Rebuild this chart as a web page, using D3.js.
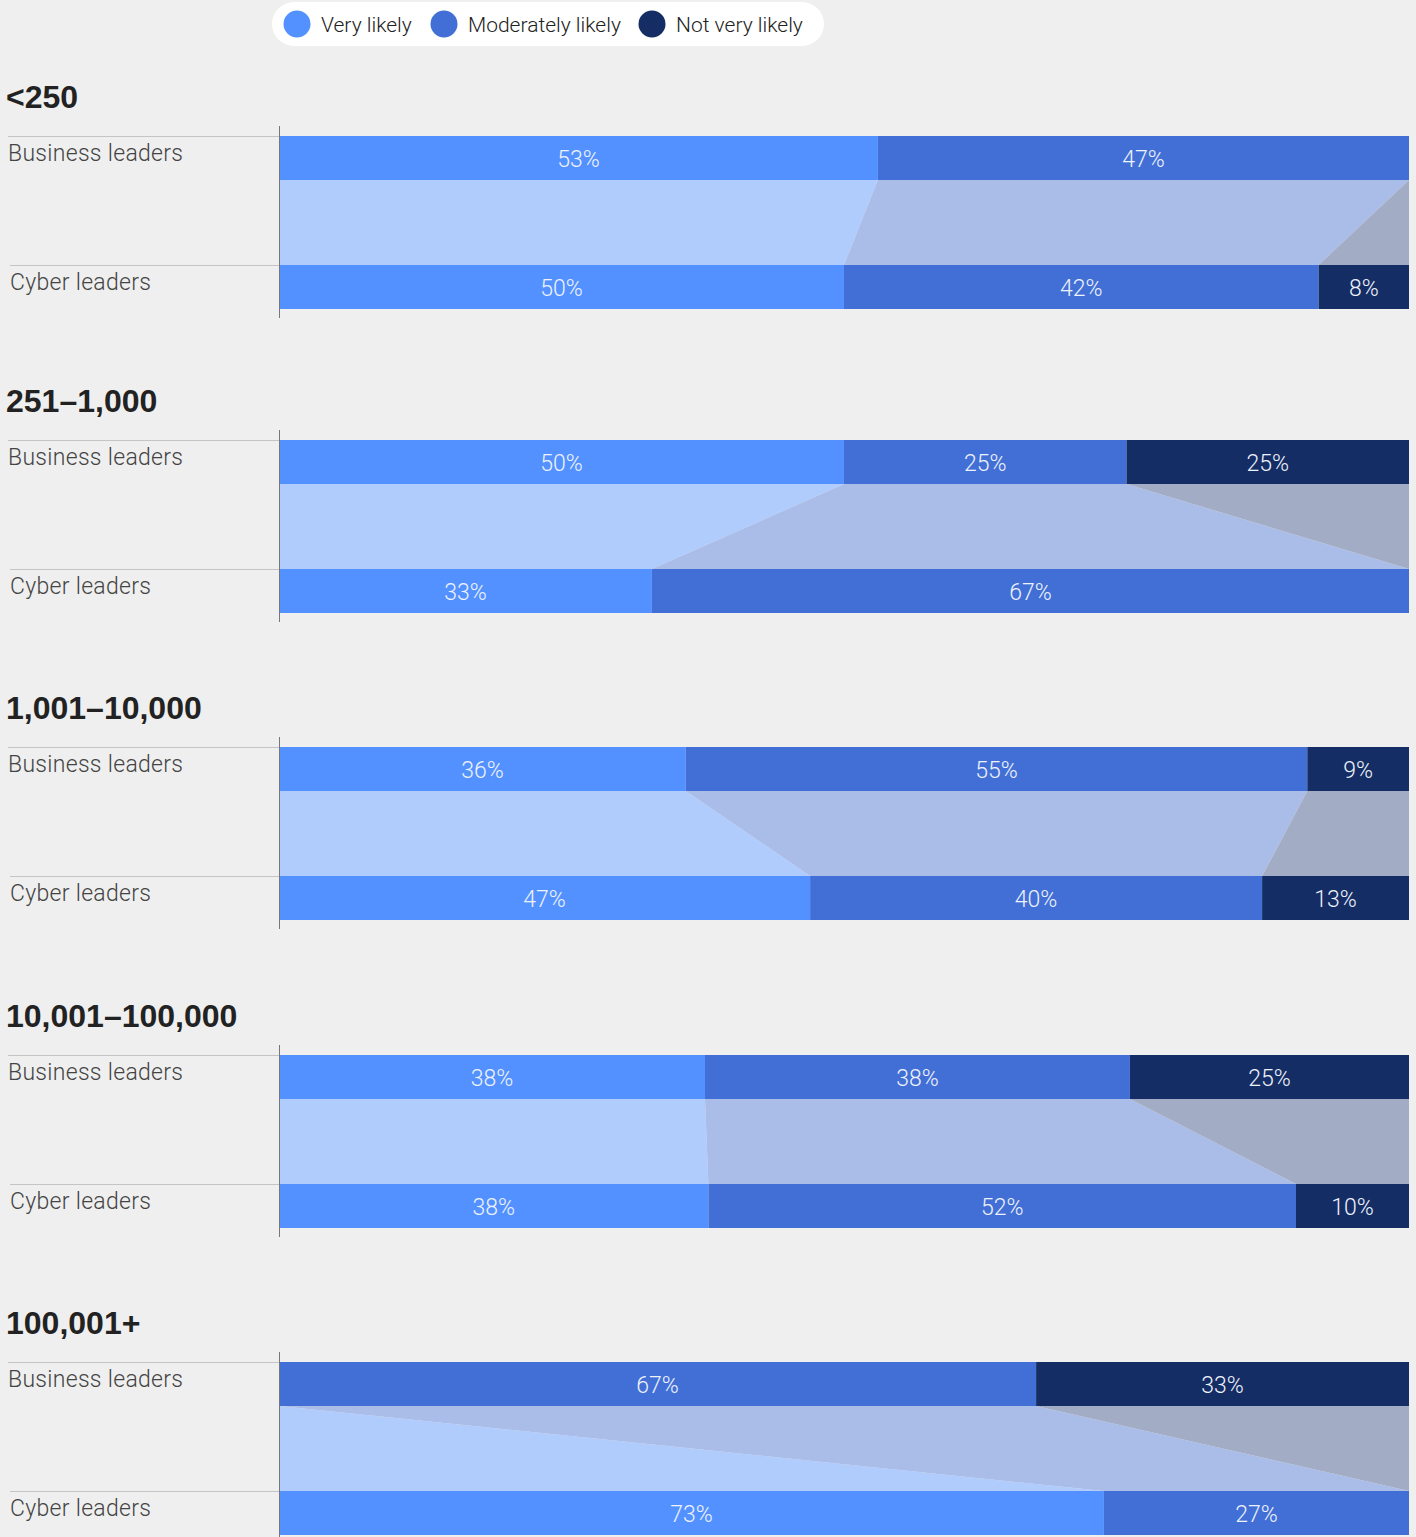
<!DOCTYPE html>
<html><head><meta charset="utf-8">
<script src="https://cdn.jsdelivr.net/npm/d3@7"></script>
<style>
html,body{margin:0;padding:0;background:#efefef;}
svg{display:block;}
</style></head>
<body>
<script>
const groups = ["<250", "251–1,000", "1,001–10,000", "10,001–100,000", "100,001+"];
const respondents = ["Business leaders", "Cyber leaders"];
const series = ["Very likely", "Moderately likely", "Not very likely"];
// [business, cyber] shares per group
const veryLikely       = [[53, 50], [50, 33], [36, 47], [37.7, 38], [0, 73]];
const moderatelyLikely = [[47, 42], [25, 67], [55, 40], [37.6, 52], [67, 27]];
const notVeryLikely    = [[0, 8],   [25, 0],  [9, 13],  [24.7, 10], [33, 0]];

const W = 1416, H = 1537;
const colors = ["#5291ff", "#416fd6", "#152d65"];
const bandColors = ["#b0ccfd", "#aabde9", "#a2adc5"];
const lightFont = "Roboto, 'Liberation Sans', sans-serif";
const titleFont = "'Liberation Sans', Arial, sans-serif";

const svg = d3.select("body").append("svg").attr("width", W).attr("height", H);

const x = d3.scaleLinear().domain([0, 100]).range([279, 1409]);
const gy = d3.scaleLinear().domain([0, 1, 4]).range([136, 440, 1362]);
const barH = 44;
const rowY = d3.scaleOrdinal().domain(respondents).range([0, 129]);

const allSeries = [veryLikely, moderatelyLikely, notVeryLikely];

// legend
const leg = svg.append("g");
leg.append("rect").attr("x", 272).attr("y", 2).attr("width", 552).attr("height", 44)
  .attr("rx", 22).attr("fill", "#ffffff");
const legX = [297, 444, 652];
series.forEach((s, i) => {
  leg.append("circle").attr("cx", legX[i]).attr("cy", 24).attr("r", 13.5).attr("fill", colors[i]);
  leg.append("text").attr("x", legX[i] + 24).attr("y", 32).text(s)
    .attr("font-family", lightFont).attr("font-weight", 300).attr("font-size", 21).attr("fill", "#222");
});

groups.forEach((gname, gi) => {
  const top = Math.round(gy(gi));
  const g = svg.append("g");
  g.append("text").attr("x", 6).attr("y", top - 28).text(gname)
    .attr("font-family", titleFont).attr("font-weight", "bold").attr("font-size", 32).attr("fill", "#222");

  const stacks = respondents.map((r, ri) => {
    let acc = 0;
    return allSeries.map((ser, si) => {
      const v = ser[gi][ri];
      const seg = {x0: acc, x1: acc + v, v, si};
      acc += v;
      return seg;
    });
  });
  stacks.forEach(st => { const tot = st[st.length - 1].x1; st.forEach(s => { s.x0 = s.x0 * 100 / tot; s.x1 = s.x1 * 100 / tot; }); });

  const yb = top + rowY(respondents[0]) + barH;
  const yc = top + rowY(respondents[1]);
  series.forEach((s, si) => {
    const b = stacks[0][si], c = stacks[1][si];
    g.append("path")
      .attr("d", `M${x(b.x0)},${yb}L${x(b.x1)},${yb}L${x(c.x1)},${yc}L${x(c.x0)},${yc}Z`)
      .attr("fill", bandColors[si]);
  });

  respondents.forEach((r, ri) => {
    const y0 = top + rowY(r);
    g.append("line").attr("x1", ri === 0 ? 8 : 10).attr("x2", 279).attr("y1", y0 + 0.5).attr("y2", y0 + 0.5)
      .attr("stroke", "#c4c4c4").attr("stroke-width", 1);
    g.append("text").attr("x", ri === 0 ? 8 : 10).attr("y", y0 + 25).text(r)
      .attr("font-family", lightFont).attr("font-weight", 300).attr("font-size", 23)
      .attr("letter-spacing", 0.3).attr("fill", "#444");
    stacks[ri].forEach(seg => {
      if (seg.v <= 0) return;
      g.append("rect").attr("x", x(seg.x0)).attr("y", y0)
        .attr("width", x(seg.x1) - x(seg.x0)).attr("height", barH)
        .attr("fill", colors[seg.si]);
      g.append("text").attr("x", (x(seg.x0) + x(seg.x1)) / 2).attr("y", y0 + 30.5)
        .attr("text-anchor", "middle").text(d3.format(".0f")(seg.v) + "%")
        .attr("font-family", lightFont).attr("font-weight", 300).attr("font-size", 23).attr("fill", "#eef2fb");
    });
  });

  g.append("line").attr("x1", 279.5).attr("x2", 279.5).attr("y1", top - 10).attr("y2", top + 182)
    .attr("stroke", "#777").attr("stroke-width", 1);
});
</script>
</body></html>
